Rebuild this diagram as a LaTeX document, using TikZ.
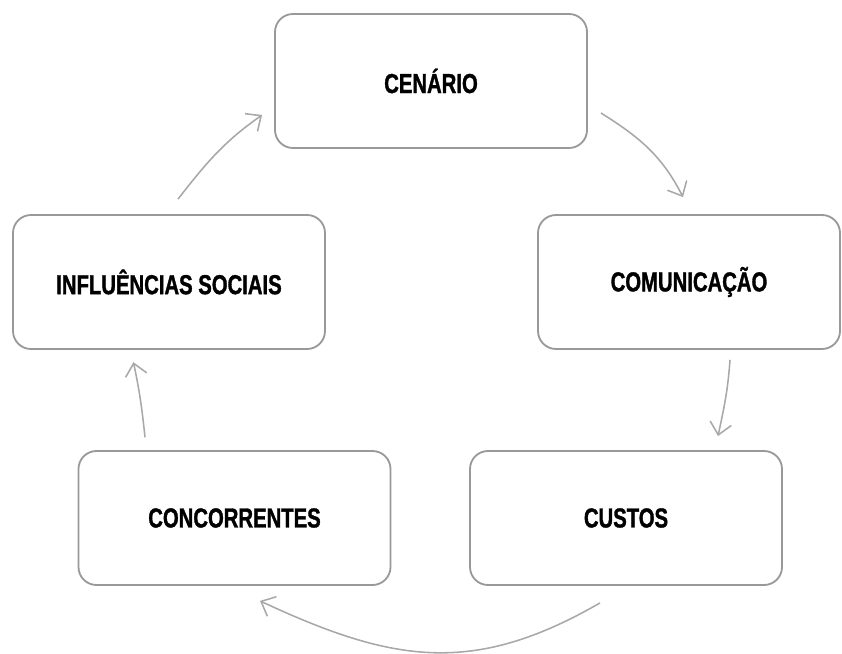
\documentclass[tikz,border=0pt]{standalone}
\usepackage{fontspec}
\newfontfamily\boxfont{Liberation Sans}[FakeStretch=0.74,BoldFeatures={FakeBold=1.2}]
\usepackage{tikz}
\usetikzlibrary{arrows.meta}
\definecolor{boxgray}{gray}{0.6}
\definecolor{arrowgray}{gray}{0.66}

\begin{document}
\begin{tikzpicture}[
  etapa/.style={draw=boxgray, line width=1.3pt, rounded corners=0.45cm,
    minimum width=7.8cm, minimum height=3.35cm,
    font=\boxfont\bfseries\fontsize{19.5}{22}\selectfont},
  seta/.style={draw=arrowgray, line width=1.1pt,
    -{Straight Barb[length=3mm,width=5.4mm]}}]
  \useasboundingbox (0,0) rectangle (21.05,16.325);

  \draw (10.775,14.3) node[etapa] (cenario) {CENÁRIO};
  \draw (17.225,9.275) node[etapa, minimum width=7.55cm] (comunicacao) {COMUNICAÇÃO};
      \draw (15.65,3.375) node[etapa] (custos) {CUSTOS};
  \draw (5.8625,3.375) node[etapa] (concorrentes) {CONCORRENTES};
  \draw (4.225,9.275) node[etapa] (influencias) {INFLUÊNCIAS SOCIAIS};

  % free ends of the arrows, a little off the boxes
  \coordinate (s1) at ([shift={(0.325,-0.8)}]cenario.east);
  \coordinate (e1) at ([shift={(-0.15,0.425)}]comunicacao.north);
  \coordinate (s2) at ([shift={(1.025,-0.25)}]comunicacao.south);
  \coordinate (e2) at ([shift={(2.3,0.35)}]custos.north);
  \coordinate (s3) at ([shift={(-0.65,-0.425)}]custos.south);
  \coordinate (e3) at ([shift={(0.6375,-0.375)}]concorrentes.south);
  \coordinate (s4) at ([shift={(-2.2375,0.32)}]concorrentes.north);
  \coordinate (e4) at ([shift={(-0.89,-0.307)}]influencias.south);
  \coordinate (s5) at ([shift={(0.225,0.375)}]influencias.north);
  \coordinate (e5) at ([shift={(-0.3,-0.85)}]cenario.west);

    \draw[seta] (s1) to[out=-32,in=117] (e1);
    \draw[seta] (s2) to[out=-94,in=78] (e2);
    \draw[seta] (s3) to[out=-150,in=-25,looseness=1.1] (e3);
    \draw[seta] (s4) to[out=96,in=-78] (e4);
    \draw[seta] (s5) to[out=52,in=-145] (e5);

\end{tikzpicture}
\end{document}
